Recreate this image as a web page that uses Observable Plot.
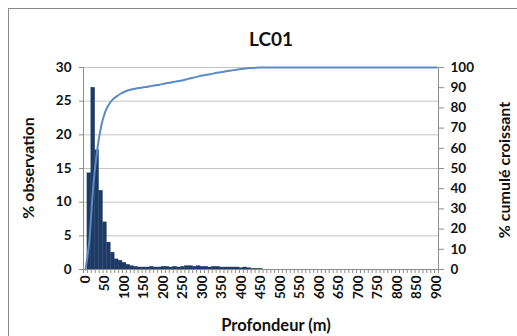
<!DOCTYPE html>
<html><head><meta charset="utf-8">
<script src="https://cdn.jsdelivr.net/npm/d3@7"></script>
<script src="https://cdn.jsdelivr.net/npm/@observablehq/plot@0.6"></script>
<style>
body{margin:0;background:#fff;font-family:Lato,"Open Sans",sans-serif;}
#wrap{position:relative;width:517px;height:336px;overflow:hidden;background:#fff;}
#frame{position:absolute;left:8px;top:8px;width:530px;height:350px;border:1px solid #8a8a8a;box-sizing:border-box;}
.t{position:absolute;font-weight:bold;color:#111;white-space:nowrap;line-height:1;}
</style></head><body>
<div id="wrap">
<div id="frame"></div>
<div id="chart" style="position:absolute;left:0;top:0"></div>
<div class="t" style="left:271px;top:38px;transform:translate(-50%,-50%);font-size:19px">LC01</div>
<div class="t" style="left:276px;top:325px;transform:translate(-50%,-50%);font-size:16.5px">Profondeur (m)</div>
<div class="t" style="left:28px;top:168px;transform:translate(-50%,-50%) rotate(-90deg);font-size:16px">% observation</div>
<div class="t" style="left:504px;top:170px;transform:translate(-50%,-50%) rotate(-90deg);font-size:16px">% cumulé croissant</div>
</div>
<script>
// Depth classes (m), one per 10 m
const depths = [0,10,20,30,40,50,60,70,80,90,100,110,120,130,140,150,160,170,180,190,200,210,220,230,240,250,260,270,280,290,300,310,320,330,340,350,360,370,380,390,400,410,420,430,440,450,460,470,480,490,500,510,520,530,540,550,560,570,580,590,600,610,620,630,640,650,660,670,680,690,700,710,720,730,740,750,760,770,780,790,800,810,820,830,840,850,860,870,880,890,900];
// % observation per class
const observation = [0,14.3,27.0,17.7,11.7,7.0,4.0,2.5,1.5,1.3,
  1.0,0.7,0.5,0.4,0.3,0.3,0.3,0.4,0.3,0.3,
  0.4,0.4,0.3,0.4,0.3,0.4,0.5,0.5,0.4,0.5,
  0.4,0.4,0.3,0.4,0.4,0.3,0.3,0.3,0.3,0.3,
  0.2,0.3,0.2,0.1,0.1,0.1,0,0,0,0,
  0,0,0,0,0,0,0,0,0,0,
  0,0,0,0,0,0,0,0,0,0,
  0,0,0,0,0,0,0,0,0,0,
  0,0,0,0,0,0,0,0,0,0,0];
const cumulative = Array.from(d3.cumsum(observation));
const xLabels = [0,50,100,150,200,250,300,350,400,450,500,550,600,650,700,750,800,850,900];
const leftTicks = [0,5,10,15,20,25,30];
const rightTicks = [0,10,20,30,40,50,60,70,80,90,100];
const K = 30/100; // right axis -> left axis

const data = depths.map((d,i)=>({depth:d, obs:observation[i], cum:cumulative[i]}));
const bounds = depths.map(d=>d-5).concat([905]);

const chart = Plot.plot({
  width:517, height:336,
  marginLeft:83, marginRight:79, marginTop:67, marginBottom:67,
  style:{fontFamily:"Lato, 'Open Sans', sans-serif", fontSize:"13.5px", fontWeight:"bold", color:"#111", background:"transparent"},
  x:{type:"linear", domain:[-5,905], axis:null},
  y:{domain:[0,30], axis:null},
  marks:[
    Plot.ruleY(leftTicks.slice(1), {stroke:"#c4c4c4", strokeWidth:1}),
    Plot.rectY(data, {x1:d=>d.depth-5, x2:d=>d.depth+5, y:"obs", fill:"#1c3a64", stroke:"#1c3a64", strokeWidth:0.3}),
    Plot.lineY(data, {x:"depth", y:d=>d.cum*K, stroke:"#5b8bc6", strokeWidth:2, curve:"monotone-x"}),
    Plot.ruleX([-5], {y1:0, y2:30, stroke:"#8c8c8c"}),
    Plot.ruleX([905], {y1:0, y2:30, stroke:"#8c8c8c"}),
    Plot.ruleY([0], {stroke:"#8c8c8c"}),
    Plot.axisY({ticks:leftTicks, anchor:"left", tickSize:4, tickPadding:8, stroke:"#8c8c8c", label:null}),
    Plot.axisY({ticks:rightTicks.map(v=>v*K), anchor:"right", tickSize:5, tickPadding:7, stroke:"#8c8c8c", tickFormat:d=>String(Math.round(d/K)), label:null}),
    Plot.axisX({ticks:bounds, anchor:"bottom", tickSize:4, stroke:"#8c8c8c", tickFormat:()=> "", label:null}),
    Plot.axisX({ticks:xLabels, anchor:"bottom", tickSize:0, tickPadding:6, tickRotate:-90, label:null})
  ]
});
document.getElementById("chart").appendChild(chart);
</script>
</body></html>
